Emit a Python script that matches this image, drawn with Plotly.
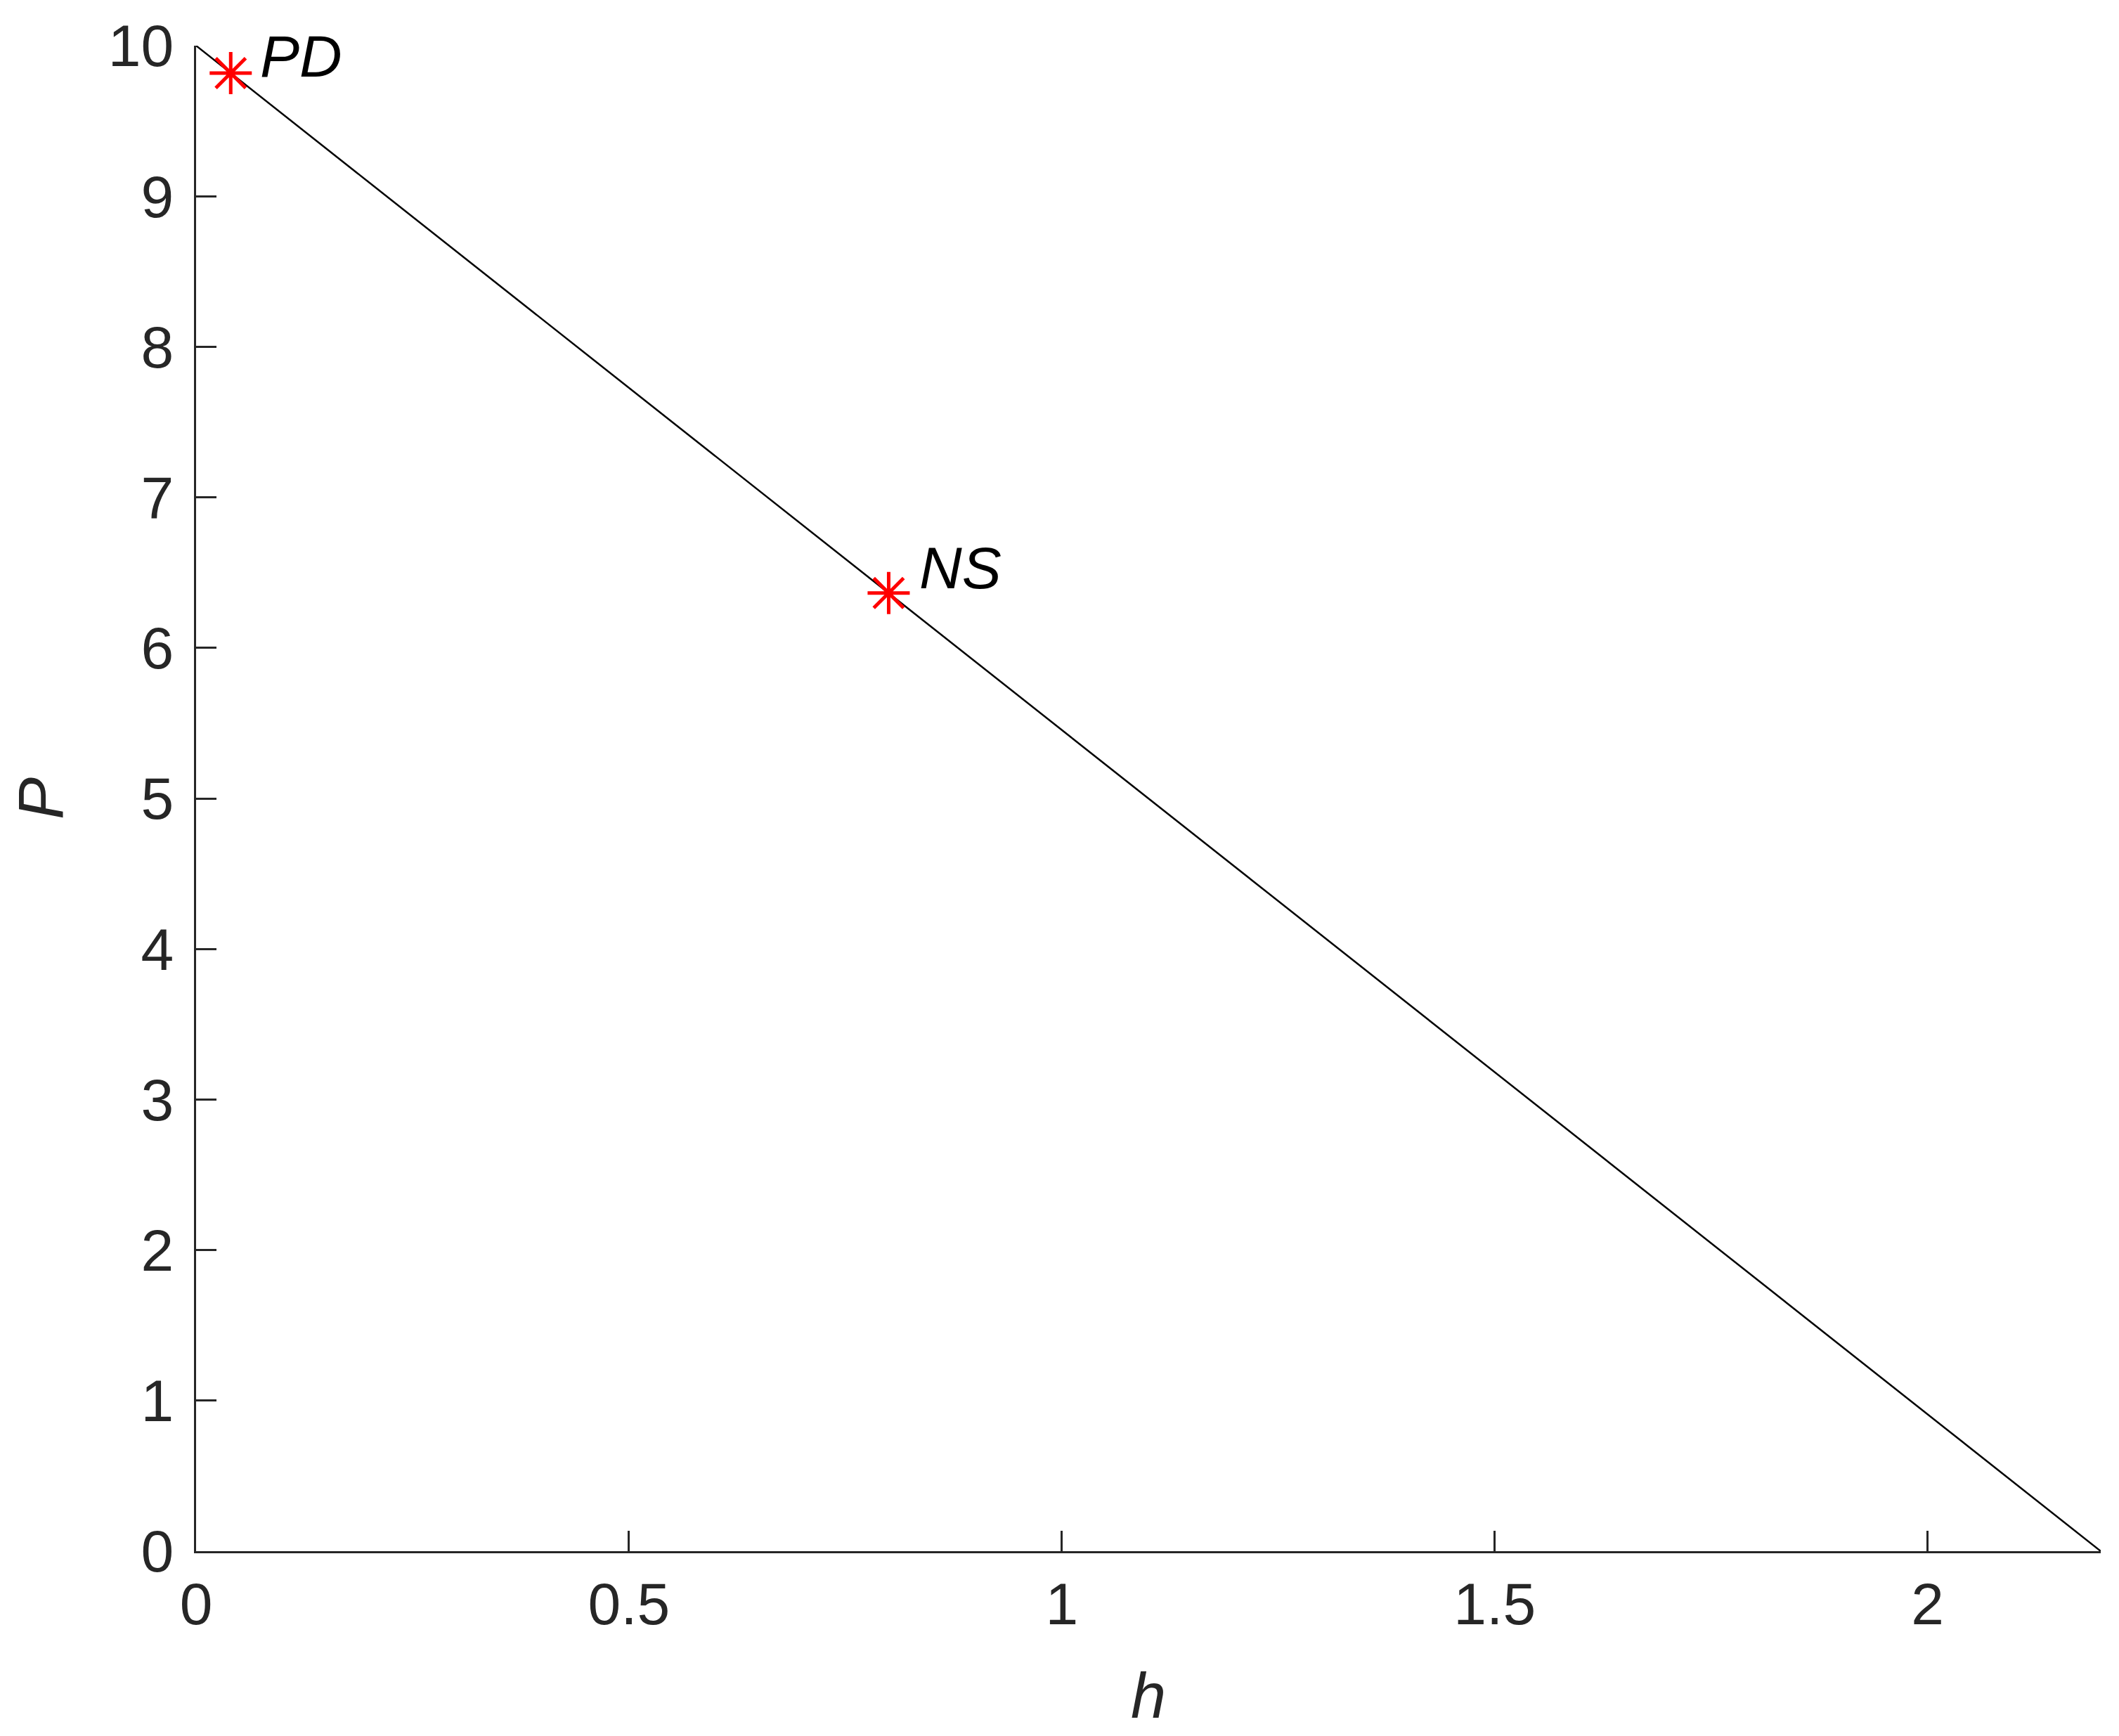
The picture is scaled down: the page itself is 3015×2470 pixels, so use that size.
import plotly.graph_objects as go

# line data
h_line = [0, 2.2]
p_line = [10, 0]

# marked points
pt_names = ["PD", "NS"]
pt_h = [0.04, 0.8]
pt_p = [9.818, 6.364]

x_ticks = [0, 0.5, 1, 1.5, 2]
y_ticks = list(range(0, 11))

axis_col = "#262626"
font_family = "Liberation Sans, Arial, sans-serif"

fig = go.Figure()

fig.add_trace(go.Scatter(
    x=h_line, y=p_line, mode="lines",
    line=dict(color="black", width=2.5),
    showlegend=False, hoverinfo="skip"
))

fig.add_trace(go.Scatter(
    x=pt_h, y=pt_p, mode="markers",
    marker=dict(symbol="asterisk-open", size=50, color="red",
                line=dict(color="red", width=5)),
    showlegend=False
))

# labels next to points
shifts = {"PD": (40, 24), "NS": (42, 36)}
for name, xv, yv in zip(pt_names, pt_h, pt_p):
    dx, dy = shifts[name]
    fig.add_annotation(
        x=xv, y=yv, text=f"<i>{name}</i>", showarrow=False,
        xanchor="left", yanchor="middle", xshift=dx, yshift=dy,
        font=dict(family=font_family, size=84, color="black")
    )

# page body adds an 8px margin, so the figure is a bit smaller
fig.update_layout(
    width=3007, height=2462,
    margin=dict(l=271, r=26, t=57, b=263),
    plot_bgcolor="white", paper_bgcolor="white",
    font=dict(family=font_family, size=84, color=axis_col),
    xaxis=dict(
        range=[0, 2.2], tickvals=x_ticks,
        ticktext=[f"{v:g}" for v in x_ticks],
        showgrid=False, zeroline=False, automargin=False,
        showline=True, linecolor=axis_col, linewidth=3,
        ticks="inside", ticklen=29, tickwidth=3, tickcolor=axis_col,
        tickfont=dict(size=84, color=axis_col),
        title=dict(text="<i>h</i>", font=dict(size=90, color=axis_col), standoff=54),
    ),
    yaxis=dict(
        range=[0, 10], tickvals=y_ticks,
        showgrid=False, zeroline=False, automargin=False,
        showline=True, linecolor=axis_col, linewidth=3,
        ticks="inside", ticklen=29, tickwidth=3, tickcolor=axis_col,
        tickfont=dict(size=84, color=axis_col), ticklabelstandoff=12,
        title=dict(text="<i>P</i>", font=dict(size=90, color=axis_col), standoff=40),
    ),
)

fig.write_html("out.html")
